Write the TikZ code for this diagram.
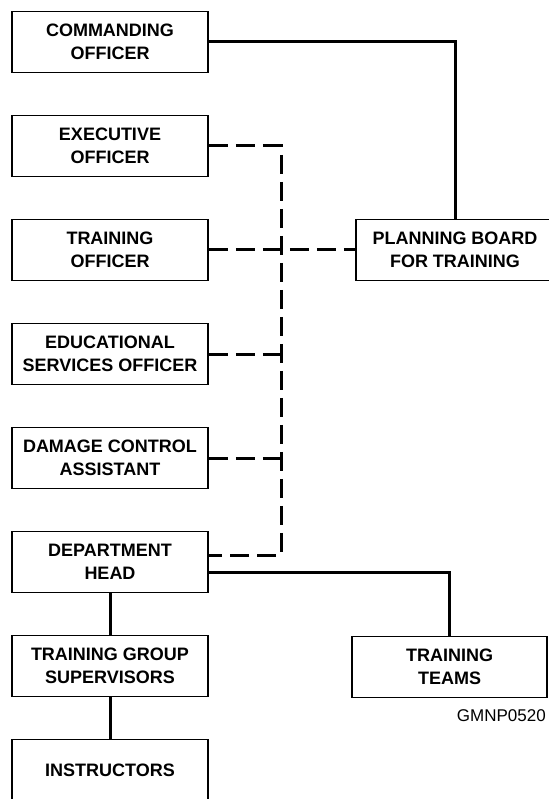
\documentclass[tikz,border=0pt]{standalone}
\usepackage{fontspec}
\setmainfont{Liberation Sans}
\begin{document}
\begin{tikzpicture}[
    x=1pt, y=1pt,
    node distance=104pt,
    box/.style={rectangle, draw, line width=1.8pt, minimum width=196pt, minimum height=61pt,
        inner sep=0pt, align=center, font=\fontsize{18}{23}\selectfont\bfseries},
    link/.style={line width=3pt},
    dashlink/.style={line width=3pt, dash pattern=on 19pt off 8pt}
]
    \useasboundingbox (0,0) rectangle (548,-799);
    % Nodes
    \node[box] (co) at (110,-42) {COMMANDING\\OFFICER};
    \node[box, below of=co] (xo) {EXECUTIVE\\OFFICER};
    \node[box, below of=xo] (to) {TRAINING\\OFFICER};
    \node[box, below of=to] (eso) {EDUCATIONAL\\SERVICES OFFICER};
    \node[box, below of=eso] (dca) {DAMAGE CONTROL\\ASSISTANT};
    \node[box, below of=dca] (dh) {DEPARTMENT\\HEAD};
    \node[box, below of=dh] (tgs) {TRAINING GROUP\\SUPERVISORS};
    \node[box, below of=tgs] (instr) {INSTRUCTORS};
    \node[box, minimum width=198pt] (pb) at (455,-250) {PLANNING BOARD\\FOR TRAINING};
    \node[box, minimum width=195pt] (tt) at (449.5,-667) {TRAINING\\TEAMS};
    \node[anchor=base east, inner sep=0pt, font=\fontsize{17}{20}\selectfont] (code) at (546,-721) {GMNP0520};

    % Coordination line
    \coordinate (bustop) at (281,-146);
    \coordinate (busbot) at (281,-555);

    % Arrows
    \draw[link] (co.east) -| (pb.north);
    \draw[dashlink] (xo.east) -- (bustop) -- (busbot) -- (dh.east |- busbot);
    \draw[dashlink] (to.east) -- (pb.west);
    \draw[dashlink] (eso.east) -- (eso.east -| bustop);
    \draw[dashlink] (dca.east) -- (dca.east -| bustop);
    \draw[link] ([yshift=-10pt]dh.east) -| (tt.north);
    \draw[link] (dh) -- (tgs);
    \draw[link] (tgs) -- (instr);
\end{tikzpicture}
\end{document}
